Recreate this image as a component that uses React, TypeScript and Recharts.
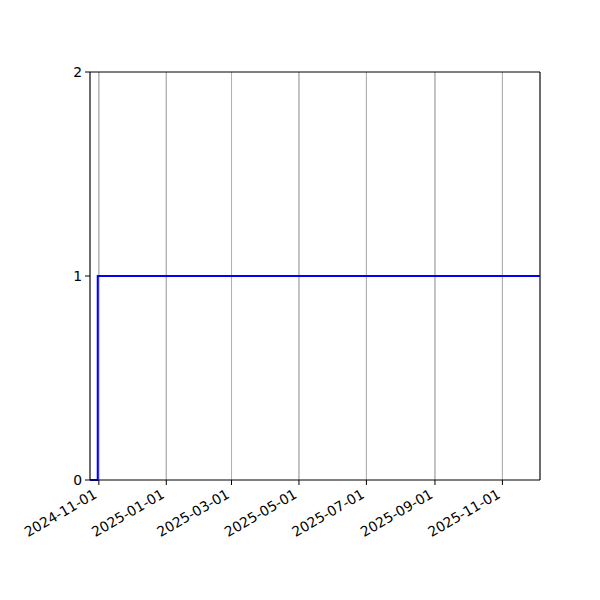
import React from 'react';
import { LineChart, Line, XAxis, YAxis, CartesianGrid, ReferenceLine } from 'recharts';

// step series
const dates = ['2024-10-24', '2024-10-31', '2025-12-05'];
const values = [0, 1, 1];

const tickDates = ['2024-11-01', '2025-01-01', '2025-03-01', '2025-05-01', '2025-07-01', '2025-09-01', '2025-11-01'];
const yTicks = [0, 1, 2];

const toTs = (d: string) => Date.parse(d + 'T00:00:00Z');
const pad = (n: number) => String(n).padStart(2, '0');
const fmtDate = (ts: number) => {
  const d = new Date(ts);
  return `${d.getUTCFullYear()}-${pad(d.getUTCMonth() + 1)}-${pad(d.getUTCDate())}`;
};

const data = dates.map((d, i) => ({ t: toTs(d), v: values[i] }));
const xDomain = [toTs('2024-10-24'), toTs('2025-12-05')];

const FONT = 'DejaVu Sans, sans-serif';

function DateTick(props: any) {
  const { x, payload } = props;
  return (
    <text
      transform={`translate(${x - 1},${497}) rotate(-30)`}
      textAnchor="end"
      fontFamily={FONT}
      fontSize={13.9}
      fill="#000"
    >
      {fmtDate(payload.value)}
    </text>
  );
}

export default function App() {
  return (
    <div style={{ position: 'absolute', left: 0, top: 0, width: 600, height: 600, background: '#fff' }}>
      <LineChart width={600} height={600} data={data} margin={{ top: 72, right: 60, bottom: 0, left: 0 }}>
        <CartesianGrid
          horizontal={false}
          stroke="#b0b0b0"
          strokeWidth={1}
          verticalPoints={[]}
        />
        <XAxis
          dataKey="t"
          type="number"
          scale="time"
          domain={xDomain}
          ticks={tickDates.map(toTs)}
          allowDataOverflow
          height={120}
          stroke="#000"
          tickSize={5}
          tick={<DateTick />}
          interval={0}
        />
        <YAxis
          type="number"
          domain={[0, 2]}
          ticks={yTicks}
          width={90}
          stroke="#000"
          tickSize={5}
          tickMargin={3}
          tick={{ fill: '#000', fontFamily: FONT, fontSize: 13.9 }}
        />
        {tickDates.map((d) => (
          <ReferenceLine key={d} x={toTs(d)} stroke="#b0b0b0" strokeWidth={1} />
        ))}
        <ReferenceLine y={2} stroke="#000" strokeWidth={1} />
        <ReferenceLine x={xDomain[1]} stroke="#000" strokeWidth={1} />
        <Line
          type="stepAfter"
          dataKey="v"
          stroke="#0000ff"
          strokeWidth={2}
          dot={false}
          isAnimationActive={false}
        />
      </LineChart>
    </div>
  );
}
